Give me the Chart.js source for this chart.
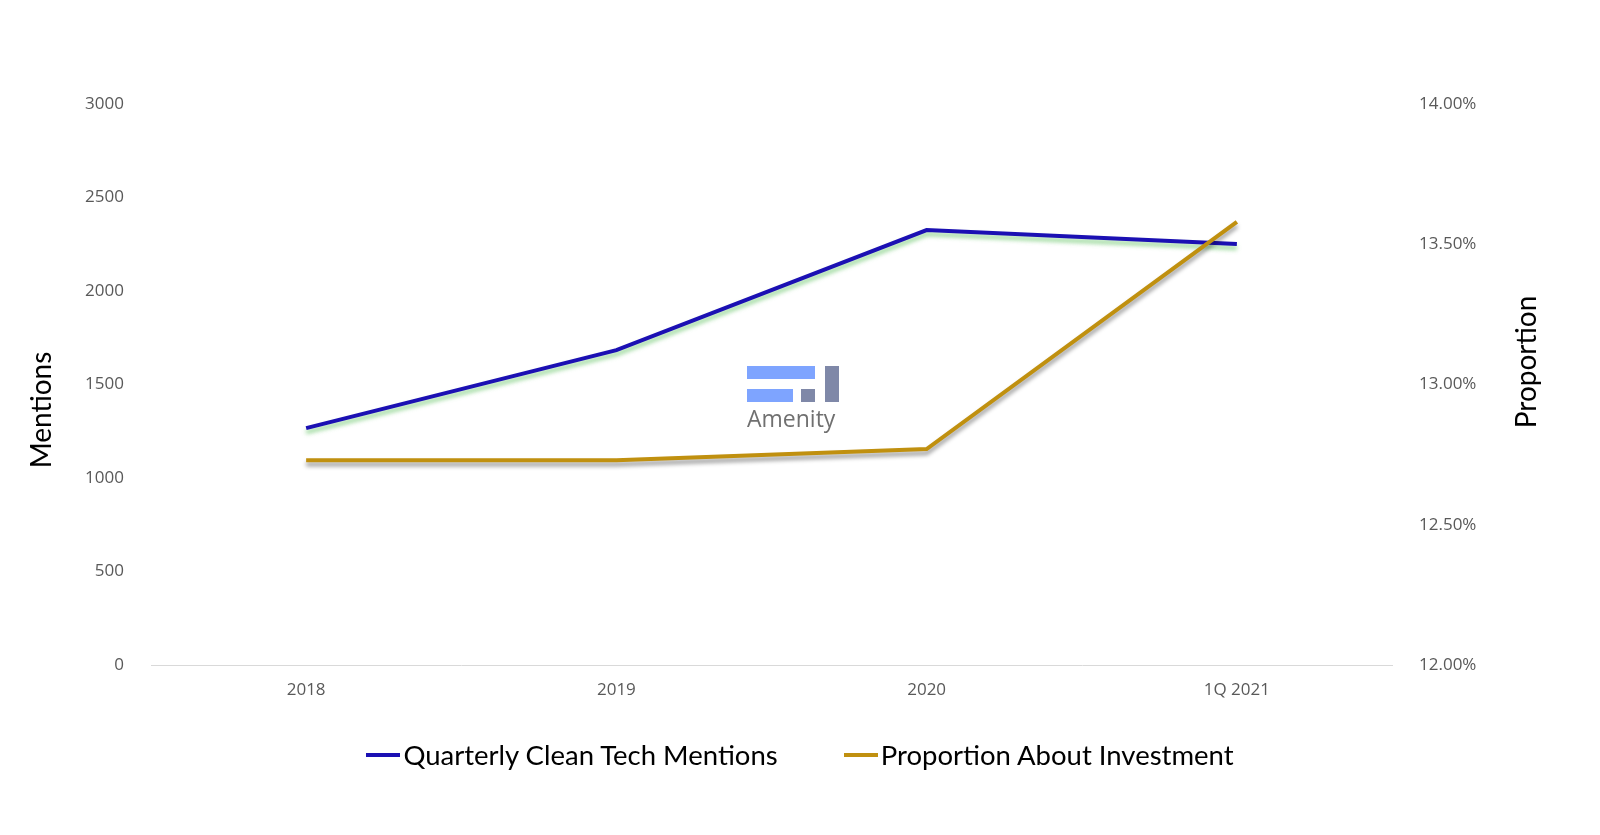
<!DOCTYPE html>
<html>
<head>
<meta charset="utf-8">
<script src="https://cdn.jsdelivr.net/npm/chart.js@4"></script>
<style>
    html, body { margin: 0; padding: 0; background: #fff; overflow: hidden; }
    .wrap { position: relative; width: 1600px; height: 835px; }
    #mentionChart { display: block; }
    .logo { position: absolute; left: 747px; top: 366px; width: 94px; height: 62px; }
    .logo div { position: absolute; }
    .logo .b1 { left: 0; top: 0; width: 68px; height: 13px; background: #7ea4ff; }
    .logo .b2 { left: 0; top: 23px; width: 46px; height: 13px; background: #7ea4ff; }
    .logo .g1 { left: 54px; top: 23px; width: 14px; height: 13px; background: #7f88a8; }
    .logo .g2 { left: 78px; top: 0; width: 14px; height: 36px; background: #7f88a8; }
    .logo .txt { left: 0; top: 36px; font: 23px "Open Sans", sans-serif; color: #707070; }
    .legend { position: absolute; left: 0; width: 1600px; top: 738px; display: flex; justify-content: center; font: 27.5px Lato, sans-serif; color: #000; }
    .legend-item { display: flex; align-items: center; margin: 0 33px; }
    .legend-line { width: 34px; height: 4px; margin-right: 3px; }
</style>
</head>
<body>
<div class="wrap">
    <canvas id="mentionChart" width="1600" height="835"></canvas>
    <div class="logo">
        <div class="b1"></div><div class="b2"></div><div class="g1"></div><div class="g2"></div>
        <div class="txt">Amenity</div>
    </div>
    <div class="legend"></div>
</div>
<script>
const categories = ['2018', '2019', '2020', '1Q 2021'];
const mentions = [1267, 1684, 2326, 2251];
const proportion = [12.73, 12.73, 12.77, 13.58];

// 선 아래 그림자 (파랑: 초록빛, 주황: 회색)
const lineShadow = {
    id: 'lineShadow',
    beforeDatasetDraw(chart, args) {
        const ctx = chart.ctx;
        ctx.save();
        if (args.index === 0) {
            ctx.shadowColor = 'rgba(110, 200, 110, 0.7)';
        } else {
            ctx.shadowColor = 'rgba(0, 0, 0, 0.4)';
        }
        ctx.shadowOffsetY = 4;
        ctx.shadowBlur = 4;
    },
    afterDatasetDraw(chart) {
        chart.ctx.restore();
    }
};

// 축 제목 (둘 다 아래에서 위로 읽기)
const axisTitles = {
    id: 'axisTitles',
    afterDraw(chart) {
        const ctx = chart.ctx;
        const drawTitle = (text, x, y) => {
            ctx.save();
            ctx.translate(x, y);
            ctx.rotate(-Math.PI / 2);
            ctx.font = '28px Lato';
            ctx.fillStyle = '#000';
            ctx.textAlign = 'center';
            ctx.textBaseline = 'middle';
            ctx.fillText(text, 0, 0);
            ctx.restore();
        };
        drawTitle('Mentions', 42, 410);
        drawTitle('Proportion', 1527, 362);
    }
};

const chartCtx = document.getElementById('mentionChart').getContext('2d');
const chart = new Chart(chartCtx, {
    type : 'line',
    data : {
        labels : categories,
        datasets : [ {
            label : 'Quarterly Clean Tech Mentions',
            data : mentions,
            yAxisID : 'y',
            borderColor : '#1b10b3',
            backgroundColor : '#1b10b3',
            borderWidth : 4,
            pointRadius : 0,
            tension : 0,
            order : 1
        }, {
            label : 'Proportion About Investment',
            data : proportion,
            yAxisID : 'y1',
            borderColor : '#c0900f',
            backgroundColor : '#c0900f',
            borderWidth : 4,
            pointRadius : 0,
            tension : 0,
            order : 0
        } ]
    },
    options : {
        responsive : false,
        animation : false,
        layout : {
            padding : { top : 104, bottom : 102, left : 0, right : 0 }
        },
        plugins : {
            legend : { display : false },
            tooltip : { enabled : false }
        },
        scales : {
            x : {
                offset : true,
                grid : { display : false },
                border : { display : true, color : '#d9d9d9', width : 1 },
                ticks : {
                    color : '#595959',
                    padding : 7,
                    font : { family : 'Open Sans', size : 17 }
                },
                afterFit : function(scale) { scale.height = 68; }
            },
            y : {
                position : 'left',
                min : 0,
                max : 3000,
                grid : { display : false },
                border : { display : false },
                ticks : {
                    stepSize : 500,
                    color : '#595959',
                    padding : 19,
                    font : { family : 'Open Sans', size : 17 },
                    callback : function(v) { return String(v); }
                },
                afterFit : function(scale) { scale.width = 151; }
            },
            y1 : {
                position : 'right',
                min : 12,
                max : 14,
                grid : { display : false },
                border : { display : false },
                ticks : {
                    stepSize : 0.5,
                    color : '#595959',
                    padding : 19,
                    font : { family : 'Open Sans', size : 17 },
                    callback : function(v) { return v.toFixed(2) + '%'; }
                },
                afterFit : function(scale) { scale.width = 208; }
            }
        }
    },
    plugins : [ lineShadow, axisTitles ]
});

// 범례는 HTML로
let legendHtml = '';
chart.data.datasets.forEach((ds) => {
    legendHtml += `
        <div class="legend-item">
            <span class="legend-line" style="background: ${ds.borderColor}"></span>
            <span>${ds.label}</span>
        </div>
    `;
});
document.querySelector('.legend').innerHTML = legendHtml;
</script>
</body>
</html>
